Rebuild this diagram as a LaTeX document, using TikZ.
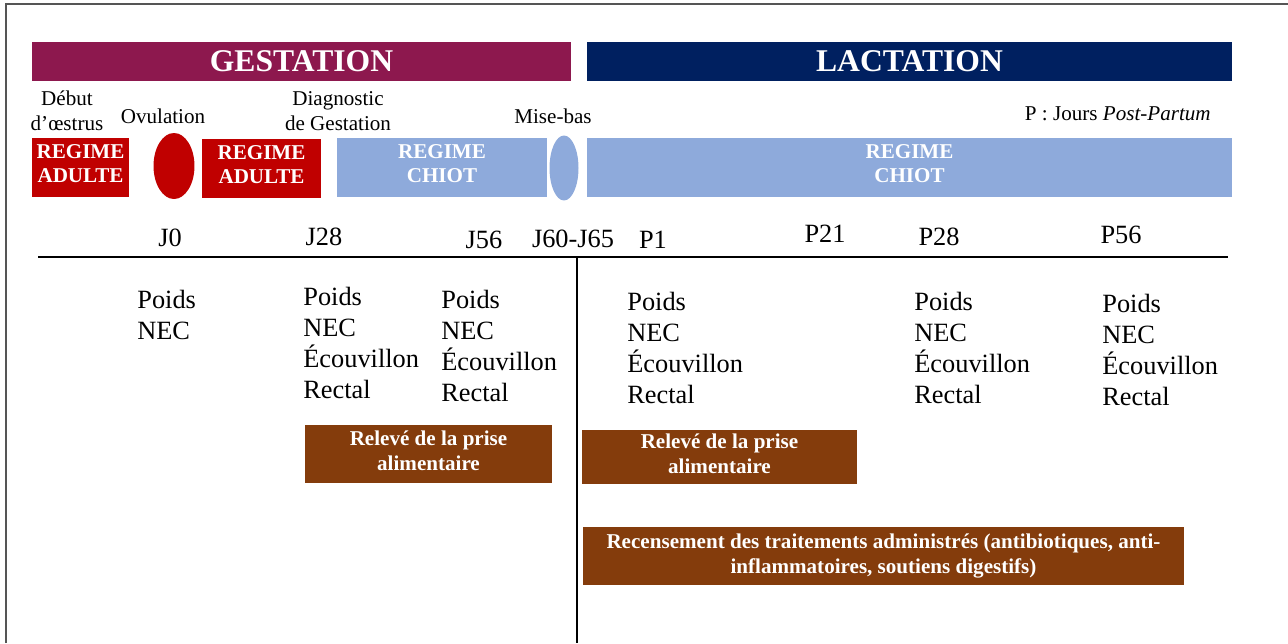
\documentclass[tikz,border=0pt]{standalone}
\usepackage{fontspec}
\setmainfont{Liberation Serif}
\usetikzlibrary{shapes.geometric}

\definecolor{gestcol}{RGB}{141,24,78}
\definecolor{lactcol}{RGB}{0,32,96}
\definecolor{adultcol}{RGB}{192,0,0}
\definecolor{chiotcol}{RGB}{142,170,219}
\definecolor{brun}{RGB}{132,60,12}
\definecolor{cadre}{RGB}{85,85,85}

\begin{document}
\begin{tikzpicture}[x=0.02cm, y=-0.02cm,
  band/.style={rectangle, inner sep=0pt, minimum height=0.78cm, text=white,
    font=\bfseries\fontsize{18}{21}\selectfont},
  regime/.style={rectangle, inner sep=0pt, minimum height=1.18cm, text=white,
    align=center, text depth=4.5pt, font=\bfseries\fontsize{12}{13.6}\selectfont},
  event/.style={ellipse, inner sep=0pt},
  evlabel/.style={align=center, inner sep=0pt, font=\fontsize{12}{14.2}\selectfont},
  day/.style={anchor=base, inner sep=0pt, font=\fontsize{15}{17.6}\selectfont},
  mesure/.style={anchor=north west, align=left, inner sep=0pt,
    font=\fontsize{15}{17.6}\selectfont},
  suivi/.style={rectangle, fill=brun, inner sep=0pt, text=white, align=center,
    font=\bfseries\fontsize{12}{14.2}\selectfont}]

  \useasboundingbox (0,0) rectangle (1288,643);

  % Frame
  \coordinate (fbl) at (6,643);
  \coordinate (ftl) at (6,4);
  \coordinate (ftr) at (1288,4);
  \draw[cadre, line width=1.1pt] (fbl) -- (ftl) -- (ftr);

  % Periods
  \node[band, fill=gestcol, minimum width=10.78cm] (gest) at (301.5,61.5) {GESTATION};
  \node[band, fill=lactcol, minimum width=12.9cm]  (lact) at (909.5,61.5) {LACTATION};

  % Diets and events
  \node[regime, fill=adultcol, minimum width=1.94cm] (adulte1) at (80.5,167.5) {REGIME\\ADULTE};
  \node[event, fill=adultcol, minimum width=0.82cm, minimum height=1.32cm] (ovu) at (174,166) {};
  \node[regime, fill=adultcol, minimum width=2.38cm] (adulte2) at (261.5,168.5) {REGIME\\ADULTE};
  \node[regime, fill=chiotcol, minimum width=4.2cm]  (chiot1) at (442,167.5) {REGIME\\CHIOT};
  \node[event, fill=chiotcol, minimum width=0.58cm, minimum height=1.3cm] (misebas) at (564,168) {};
  \node[regime, fill=chiotcol, minimum width=12.9cm] (chiot2) at (909.5,167.5) {REGIME\\CHIOT};

  % Event labels
  \node[evlabel] (oestrus) at (67,111) {Début\\d’œstrus};
  \node[evlabel, anchor=base] (lovu) at (163,123) {Ovulation};
  \node[evlabel] (diag) at (338,111) {Diagnostic\\de Gestation};
  \node[evlabel, anchor=base] (lmise) at (553,123) {Mise-bas};
  \node[evlabel, anchor=base east] (legende) at (1211,120) {P : Jours \textit{Post-Partum}};

  % Days
  \node[day] (j0)  at (170,246) {J0};
  \node[day] (j28) at (324,245) {J28};
  \node[day] (j56) at (484,248) {J56};
  \node[day] (j60) at (573,247) {J60-J65};
  \node[day] (p1)  at (653,248) {P1};
  \node[day] (p21) at (825,242) {P21};
  \node[day] (p28) at (939,245) {P28};
  \node[day] (p56) at (1121,243) {P56};

  % Timeline
  \coordinate (tl) at (38,257);
  \coordinate (tr) at (1228,257);
  \coordinate (split) at (577,257);
  \coordinate (bottom) at (577,643);
  \draw[line width=1.2pt] (tl) -- (tr);
  \draw[line width=1.1pt] (split) -- (bottom);

  % Measurements
  \node[mesure] (m0)  at (137,290) {Poids\\NEC};
  \node[mesure] (m28) at (303,287) {Poids\\NEC\\Écouvillon\\Rectal};
  \node[mesure] (m56) at (441,290) {Poids\\NEC\\Écouvillon\\Rectal};
  \node[mesure] (mp1) at (627,292) {Poids\\NEC\\Écouvillon\\Rectal};
  \node[mesure] (mp28) at (914,292) {Poids\\NEC\\Écouvillon\\Rectal};
  \node[mesure] (mp56) at (1102,294) {Poids\\NEC\\Écouvillon\\Rectal};

  % Follow-up
  \node[suivi, text depth=3.4pt, minimum width=4.94cm, minimum height=1.16cm] (prise1) at (428.5,454) {Relevé de la prise\\alimentaire};
  \node[suivi, text depth=3.4pt, minimum width=5.5cm, minimum height=1.08cm] (prise2) at (719.5,457) {Relevé de la prise\\alimentaire};
  \node[suivi, minimum width=12.02cm, minimum height=1.16cm] (traite) at (883.5,556)
    {Recensement des traitements administrés (antibiotiques, anti-\\inflammatoires, soutiens digestifs)};

\end{tikzpicture}
\end{document}
